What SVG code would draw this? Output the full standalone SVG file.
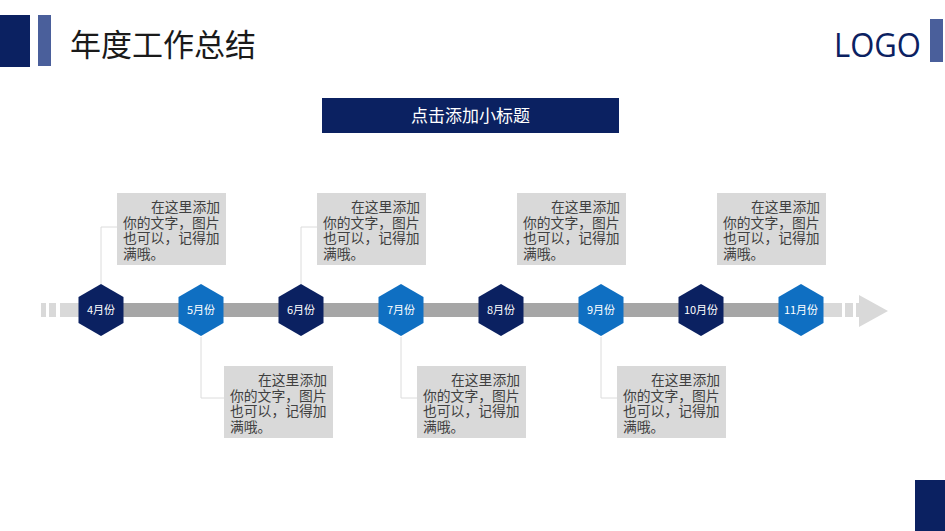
<svg xmlns="http://www.w3.org/2000/svg" width="945" height="531" viewBox="0 0 945 531">
<style>
.cjk{font-family:"Noto Sans CJK SC","Noto Sans",sans-serif}
.dark{fill:#0b2161}
.blue{fill:#0f6fc2}
.mon{font-size:11px;fill:#ffffff;text-anchor:middle}
.box{fill:#d9d9d9}
.bt{font-size:13.8px;fill:#404040}
.conn{fill:none;stroke:#dcdcdc;stroke-width:1}
.lg{fill:#d9d9d9}
</style>
<defs>
<path id="hex" d="M0,-26 L22.5,-13 L22.5,13 L0,26 L-22.5,13 L-22.5,-13 Z"/>
</defs>
<rect width="945" height="531" fill="#ffffff"/>
<g id="header">
<rect x="0" y="15" width="30" height="52" class="dark"/>
<rect x="38" y="15" width="13" height="51" fill="#4a5f9b"/>
<text x="70" y="56" class="cjk" font-size="31" fill="#1a1a1a">年度工作总结</text>
<text x="834" y="57" font-family="'Open Sans','Noto Sans',sans-serif" font-size="33" fill="#0b2161" textLength="87" lengthAdjust="spacingAndGlyphs">LOGO</text>
<rect x="930" y="19" width="13" height="43" fill="#4a5f9b"/>
<rect x="915" y="480" width="30" height="51" class="dark"/>
</g>
<g id="subtitle">
<rect x="322" y="98" width="297" height="35" class="dark"/>
<text x="470.5" y="122" class="cjk" font-size="17" fill="#ffffff" text-anchor="middle">点击添加小标题</text>
</g>
<g id="timeline">
<rect x="41" y="303" width="5" height="14" class="lg"/>
<rect x="49" y="303" width="7" height="14" class="lg"/>
<rect x="60" y="303" width="41" height="14" class="lg"/>
<rect x="101" y="303" width="700" height="14" fill="#a6a6a6"/>
<rect x="801" y="303" width="41" height="14" class="lg"/>
<rect x="845" y="303" width="8" height="14" class="lg"/>
<rect x="856" y="303" width="4" height="14" class="lg"/>
<path d="M859,295 L888,311 L859,327 Z" class="lg"/>
</g>
<g id="connectors">
<path class="conn" d="M101,284 V227 H117"/>
<path class="conn" d="M301,284 V227 H317"/>
<path class="conn" d="M201,337 V398 H224"/>
<path class="conn" d="M401,337 V398 H417"/>
<path class="conn" d="M601,337 V398 H617"/>
</g>
<g id="m4"><use href="#hex" x="101" y="310" class="dark"/><text x="101" y="314" class="cjk mon">4月份</text></g>
<g id="m5"><use href="#hex" x="201" y="310" class="blue"/><text x="201" y="314" class="cjk mon">5月份</text></g>
<g id="m6"><use href="#hex" x="301" y="310" class="dark"/><text x="301" y="314" class="cjk mon">6月份</text></g>
<g id="m7"><use href="#hex" x="401" y="310" class="blue"/><text x="401" y="314" class="cjk mon">7月份</text></g>
<g id="m8"><use href="#hex" x="501" y="310" class="dark"/><text x="501" y="314" class="cjk mon">8月份</text></g>
<g id="m9"><use href="#hex" x="601" y="310" class="blue"/><text x="601" y="314" class="cjk mon">9月份</text></g>
<g id="m10"><use href="#hex" x="701" y="310" class="dark"/><text x="701" y="314" class="cjk mon">10月份</text></g>
<g id="m11"><use href="#hex" x="801" y="310" class="blue"/><text x="801" y="314" class="cjk mon">11月份</text></g>
<g id="box4"><rect x="117" y="193" width="109" height="72" class="box"/>
<text class="cjk bt"><tspan x="151" y="212">在这里添加</tspan><tspan x="123" y="227.5">你的文字，图片</tspan><tspan x="123" y="243">也可以，记得加</tspan><tspan x="123" y="258.5">满哦。</tspan></text></g>
<g id="box6"><rect x="317" y="193" width="109" height="72" class="box"/>
<text class="cjk bt"><tspan x="351" y="212">在这里添加</tspan><tspan x="323" y="227.5">你的文字，图片</tspan><tspan x="323" y="243">也可以，记得加</tspan><tspan x="323" y="258.5">满哦。</tspan></text></g>
<g id="box8"><rect x="517" y="193" width="109" height="72" class="box"/>
<text class="cjk bt"><tspan x="551" y="212">在这里添加</tspan><tspan x="523" y="227.5">你的文字，图片</tspan><tspan x="523" y="243">也可以，记得加</tspan><tspan x="523" y="258.5">满哦。</tspan></text></g>
<g id="box10"><rect x="717" y="193" width="109" height="72" class="box"/>
<text class="cjk bt"><tspan x="751" y="212">在这里添加</tspan><tspan x="723" y="227.5">你的文字，图片</tspan><tspan x="723" y="243">也可以，记得加</tspan><tspan x="723" y="258.5">满哦。</tspan></text></g>
<g id="box5"><rect x="224" y="366" width="109" height="72" class="box"/>
<text class="cjk bt"><tspan x="258" y="385">在这里添加</tspan><tspan x="230" y="400.5">你的文字，图片</tspan><tspan x="230" y="416">也可以，记得加</tspan><tspan x="230" y="431.5">满哦。</tspan></text></g>
<g id="box7"><rect x="417" y="366" width="109" height="72" class="box"/>
<text class="cjk bt"><tspan x="451" y="385">在这里添加</tspan><tspan x="423" y="400.5">你的文字，图片</tspan><tspan x="423" y="416">也可以，记得加</tspan><tspan x="423" y="431.5">满哦。</tspan></text></g>
<g id="box9"><rect x="617" y="366" width="109" height="72" class="box"/>
<text class="cjk bt"><tspan x="651" y="385">在这里添加</tspan><tspan x="623" y="400.5">你的文字，图片</tspan><tspan x="623" y="416">也可以，记得加</tspan><tspan x="623" y="431.5">满哦。</tspan></text></g>
</svg>
